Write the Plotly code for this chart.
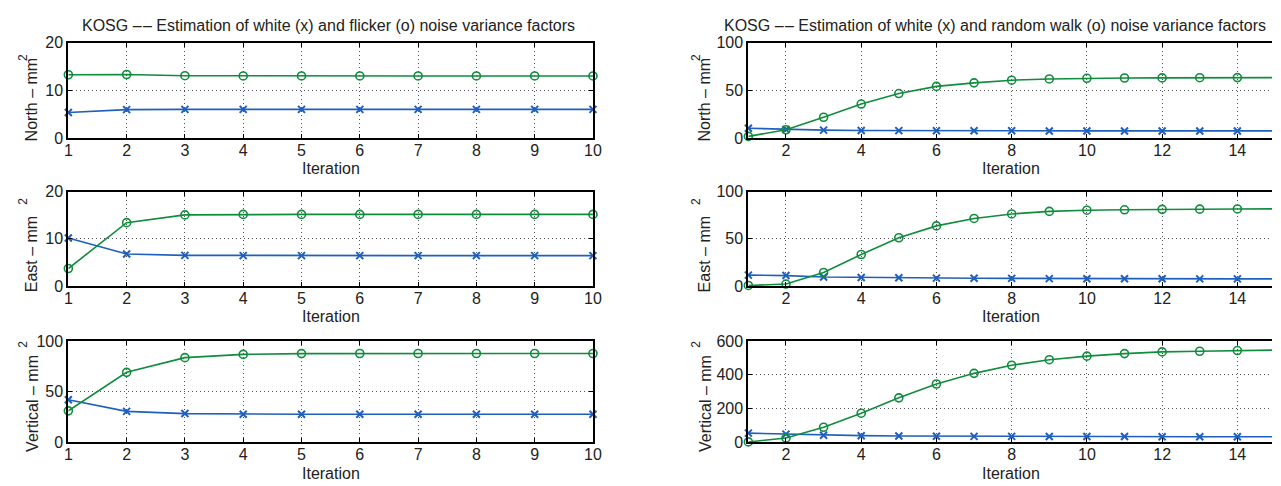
import plotly.graph_objects as go

W, H = 1281, 486

# ---------------- data ----------------
iter_fl = [1, 2, 3, 4, 5, 6, 7, 8, 9, 10]
iter_rw = [1, 2, 3, 4, 5, 6, 7, 8, 9, 10, 11, 12, 13, 14, 15]

north_white_fl = [5.4, 6.0, 6.05, 6.05, 6.05, 6.05, 6.05, 6.05, 6.05, 6.05]
north_flicker = [13.3, 13.35, 13.1, 13.05, 13.05, 13.05, 13.05, 13.05, 13.05, 13.05]
east_white_fl = [10.2, 6.8, 6.5, 6.45, 6.45, 6.45, 6.45, 6.45, 6.45, 6.45]
east_flicker = [3.7, 13.45, 15.1, 15.2, 15.2, 15.2, 15.2, 15.2, 15.2, 15.2]
vert_white_fl = [42, 30.5, 28.3, 27.7, 27.6, 27.6, 27.6, 27.6, 27.6, 27.6]
vert_flicker = [31, 69, 83.5, 86.7, 87.5, 87.6, 87.6, 87.6, 87.6, 87.6]

north_white_rw = [10.5, 9.2, 8.5, 8.2, 8.0, 7.9, 7.8, 7.8, 7.7, 7.7, 7.7, 7.7, 7.7, 7.7, 7.7]
north_rw = [2.0, 8.9, 22.0, 35.8, 46.8, 54.3, 58.0, 60.8, 62.1, 62.8, 63.1, 63.2, 63.4, 63.5, 63.5]
east_white_rw = [11.5, 11.0, 9.5, 9.0, 8.7, 8.3, 8.1, 8.0, 7.8, 7.7, 7.6, 7.6, 7.5, 7.5, 7.5]
east_rw = [0.5, 2.0, 14.3, 33.4, 51.2, 63.8, 71.7, 76.5, 79.2, 80.5, 80.9, 81.4, 81.6, 81.8, 81.9]
vert_white_rw = [54, 48, 41, 39, 37, 36, 35, 35, 34, 34, 34, 33, 33, 33, 33]
vert_rw = [2, 25, 89, 172, 263, 345, 408, 456, 489, 510, 525, 535, 539, 543, 546]

ticks_fl = [1, 2, 3, 4, 5, 6, 7, 8, 9, 10]
ticks_rw = [2, 4, 6, 8, 10, 12, 14, 16]

title_fl = "KOSG \u2013\u200a\u2013 Estimation of white (x) and flicker (o) noise variance factors"
title_rw = "KOSG \u2013\u200a\u2013 Estimation of white (x) and random walk (o) noise variance factors"
ylabels = ["North \u2013 mm", "East \u2013 mm", "Vertical \u2013 mm"]
xlabel = "Iteration"

BLUE = "#1f5fbd"
GREEN = "#0f8c3c"
FONT = "Liberation Sans"
TXT = "#222222"
FS = 16

rows_px = [(36, 135), (190.5, 288), (345, 450)]
cols_px = [(65, 595), (752, 1281)]

def fx(p):
    return p / W

def fy(p):
    return 1 - p / H

panels = [
    dict(x=iter_fl, w=north_white_fl, c=north_flicker, yr=[0, 20], yt=[0, 10, 20], col=0, row=0),
    dict(x=iter_rw, w=north_white_rw, c=north_rw, yr=[0, 100], yt=[0, 50, 100], col=1, row=0),
    dict(x=iter_fl, w=east_white_fl, c=east_flicker, yr=[0, 20], yt=[0, 10, 20], col=0, row=1),
    dict(x=iter_rw, w=east_white_rw, c=east_rw, yr=[0, 100], yt=[0, 50, 100], col=1, row=1),
    dict(x=iter_fl, w=vert_white_fl, c=vert_flicker, yr=[0, 100], yt=[0, 50, 100], col=0, row=2),
    dict(x=iter_rw, w=vert_white_rw, c=vert_rw, yr=[0, 600], yt=[0, 200, 400, 600], col=1, row=2),
]

fig = go.Figure()
layout = {}
for i, p in enumerate(panels, start=1):
    sfx = "" if i == 1 else str(i)
    xa, ya = "x" + sfx, "y" + sfx
    c0, c1 = cols_px[p["col"]]
    r0, r1 = rows_px[p["row"]]
    if p["col"] == 0:
        xr = [1, 10]
        xt = ticks_fl
    else:
        xr = [1, 1 + (1281 - 752) / 38.0]
        xt = ticks_rw
    fig.add_trace(go.Scatter(x=p["x"], y=p["w"], xaxis=xa, yaxis=ya, mode="lines+markers",
                             line=dict(color=BLUE, width=1.6), cliponaxis=False,
                             marker=dict(symbol="x-thin-open", size=7, line=dict(color=BLUE, width=2)),
                             showlegend=False))
    fig.add_trace(go.Scatter(x=p["x"], y=p["c"], xaxis=xa, yaxis=ya, mode="lines+markers",
                             line=dict(color=GREEN, width=1.6), cliponaxis=False,
                             marker=dict(symbol="circle-open", size=8, line=dict(color=GREEN, width=1.6)),
                             showlegend=False))
    common = dict(showline=True, linecolor="black", linewidth=2, ticks="inside", ticklen=4,
                  tickwidth=1, tickcolor="black", showgrid=True, gridcolor="#555555",
                  griddash="1px,3px", gridwidth=1, zeroline=False,
                  tickfont=dict(family=FONT, size=FS, color=TXT))
    layout["xaxis" + sfx] = dict(domain=[fx(c0), fx(c1)], range=xr, tickvals=xt, anchor=ya,
                                  mirror="ticks", ticklabelstandoff=-3, **common)
    layout["yaxis" + sfx] = dict(domain=[fy(r1), fy(r0)], range=p["yr"], tickvals=p["yt"], anchor=xa,
                                  mirror=("ticks" if p["col"] == 0 else False), **common)

annotations = []
fnt = dict(family=FONT, size=FS, color=TXT)
# titles
annotations.append(dict(text=title_fl, x=fx(328), y=fy(18), xref="paper", yref="paper",
                        showarrow=False, xanchor="center", yanchor="middle", font=fnt))
annotations.append(dict(text=title_rw, x=fx(1001), y=fy(18), xref="paper", yref="paper",
                        showarrow=False, xanchor="center", yanchor="middle", font=fnt))
# x labels
xl_y = [166, 320, 482]
for r in range(3):
    annotations.append(dict(text=xlabel, x=fx(330), y=fy(xl_y[r]), xref="paper", yref="paper",
                            showarrow=False, xanchor="center", yanchor="middle", font=fnt))
    annotations.append(dict(text=xlabel, x=fx(1017), y=fy(xl_y[r]), xref="paper", yref="paper",
                            showarrow=False, xanchor="center", yanchor="middle", font=fnt))
# y labels
yl_c = [95, 255.5, 409.5]
sq_c = [51, 200, 348]
for r in range(3):
    for cx, sx in [(28, 19), (708, 699)]:
        annotations.append(dict(text=ylabels[r], x=fx(cx), y=fy(yl_c[r]), xref="paper", yref="paper",
                                showarrow=False, xanchor="center", yanchor="middle", textangle=-90,
                                font=fnt))
        annotations.append(dict(text="2", x=fx(sx), y=fy(sq_c[r]), xref="paper", yref="paper",
                                showarrow=False, xanchor="center", yanchor="middle", textangle=-90,
                                font=dict(family=FONT, size=12, color=TXT)))

layout["annotations"] = annotations
fig.update_layout(**layout)
fig.update_layout(width=W, height=H, margin=dict(l=0, r=0, t=0, b=0),
                  paper_bgcolor="white", plot_bgcolor="white")

fig.write_html("out.html")
